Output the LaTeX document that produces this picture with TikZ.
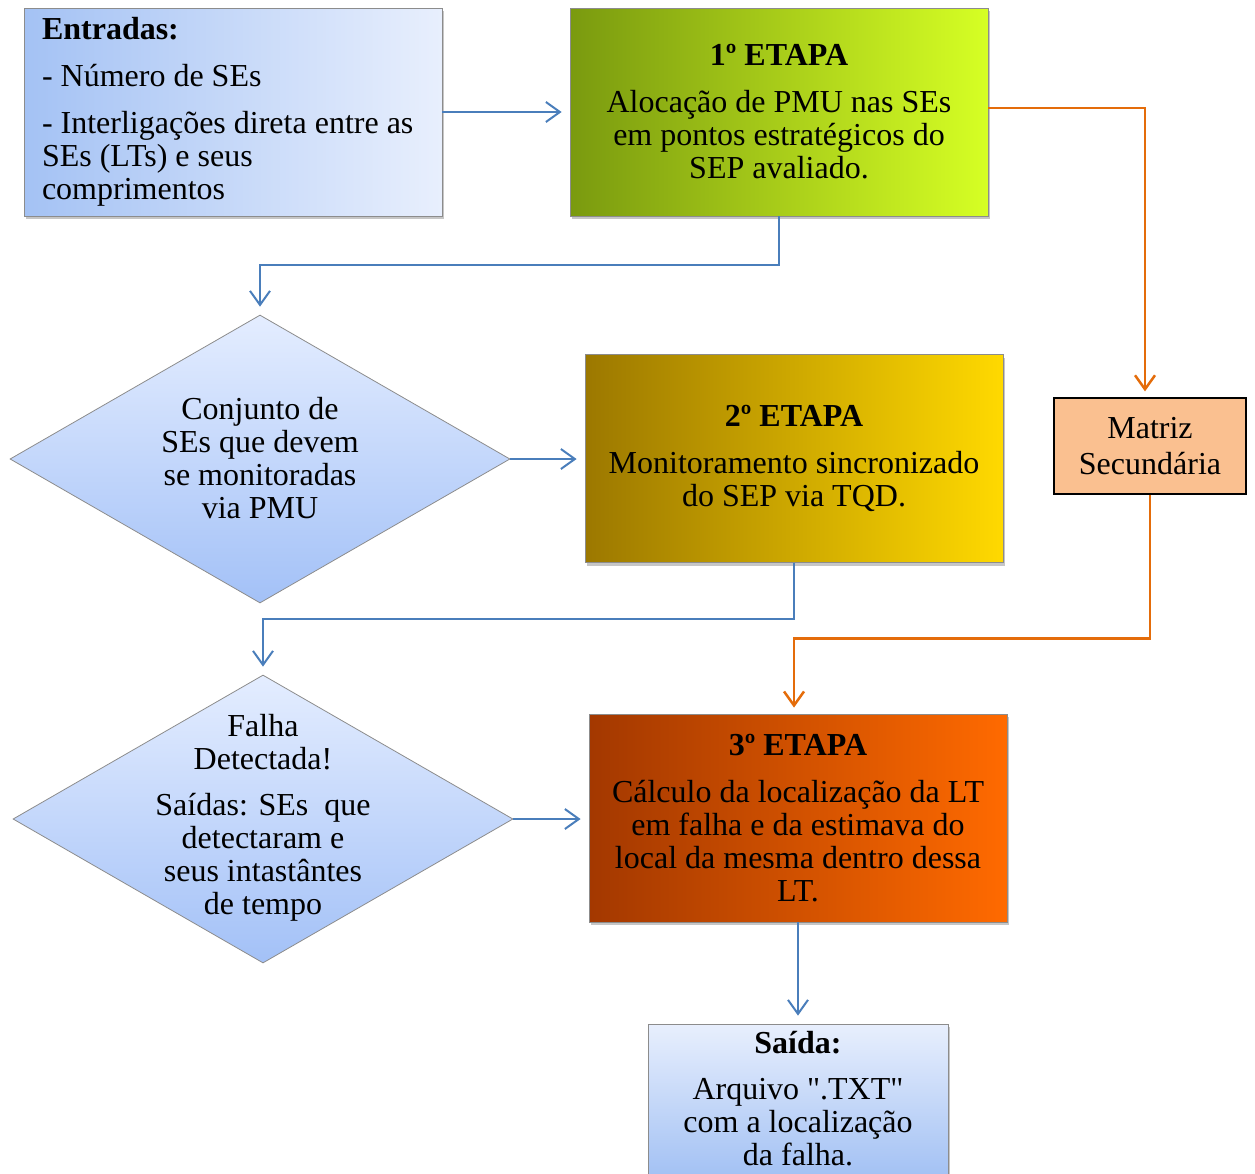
\documentclass[tikz,border=0pt]{standalone}
\usepackage{fontspec}
\setmainfont{Liberation Serif}
\usetikzlibrary{shapes.geometric,arrows.meta,shadows}
\definecolor{entL}{HTML}{A4C2F4}
\definecolor{entR}{HTML}{E8EFFD}
\definecolor{g1L}{HTML}{7A9A0F}
\definecolor{g1R}{HTML}{D6FF24}
\definecolor{g2L}{HTML}{9C7800}
\definecolor{g2R}{HTML}{FFD900}
\definecolor{g3L}{HTML}{A33800}
\definecolor{g3R}{HTML}{FF6A00}
\definecolor{diaTop}{HTML}{E4EDFF}
\definecolor{diaBot}{HTML}{A3C1F7}
\definecolor{matFill}{HTML}{FAC090}
\definecolor{arrBlue}{HTML}{4A7EBB}
\definecolor{arrOrange}{HTML}{E46C0A}
\begin{document}
\begin{tikzpicture}[x=1pt,y=-1pt,
  every node/.style={font=\fontsize{32}{33}\selectfont, text=black},
  box/.style={rectangle, draw=black!45, line width=0.8pt, minimum width=418pt,
    minimum height=208pt, inner sep=0pt, align=center,
    drop shadow={shadow xshift=2pt, shadow yshift=-3pt, opacity=0.45}},
  dia/.style={diamond, draw=black!45, line width=0.8pt, minimum width=500pt,
    minimum height=288pt, inner sep=0pt, top color=diaTop, bottom color=diaBot},
  dtext/.style={align=center, inner sep=0pt},
  barrow/.style={draw=arrBlue, line width=2pt, -{Straight Barb[length=14pt,width=20pt]}, shorten >=8pt},
  oarrow/.style={draw=arrOrange, line width=2.5pt, -{Straight Barb[length=14pt,width=20pt]}, shorten >=6pt}
]
\useasboundingbox (0,0) rectangle (1255,1173);

\node[box, left color=entL, right color=entR, text width=382pt, align=flush left] (ent) at (233,112)
  {\textbf{Entradas:}\\[14pt]- Número de SEs\\[14pt]- Interligações direta entre as\\SEs (LTs) e seus\\comprimentos};

\node[box, left color=g1L, right color=g1R] (n1) at (779,112)
  {\textbf{1º ETAPA}\\[14pt]Alocação de PMU nas SEs\\em pontos estratégicos do\\SEP avaliado.};

\node[box, left color=g2L, right color=g2R] (n2) at (794,458.5)
  {\textbf{2º ETAPA}\\[14pt]Monitoramento sincronizado\\do SEP via TQD.};

\node[box, left color=g3L, right color=g3R] (n3) at (798,818)
  {\textbf{3º ETAPA}\\[14pt]Cálculo da localização da LT\\em falha e da estimava do\\local da mesma dentro dessa\\LT.};

\node[box, top color=entR, bottom color=entL, minimum width=300pt, minimum height=150pt] (sai) at (798,1099)
  {\textbf{Saída:}\\[13pt]Arquivo \textquotedbl.TXT\textquotedbl\\com a localização\\da falha.};

\node[rectangle, draw=black, line width=1.2pt, fill=matFill, minimum width=192pt, minimum height=96pt, align=center, inner sep=0pt] (mat) at (1150,446)
  {Matriz\\[3pt]Secundária};

\node[dia] (d1) at (260,459) {};
\node[dtext] (t1) at (260,458) {Conjunto de\\SEs que devem\\se monitoradas\\via PMU};

\node[dia] (d2) at (263,819) {};
\node[dtext] (t2) at (263,818) {Falha\\Detectada!\\[13pt]Saídas: SEs\ \ que\\detectaram e\\seus intastântes\\de tempo};

\draw[barrow] (ent.east) -- (n1.west);
\draw[barrow] (n1.south) -- ++(0,49) -| (d1.north);
\draw[barrow] (d1.east) -- (n2.west |- d1.east);
\draw[barrow] (n2.south) -- ++(0,56) -| (d2.north);
\draw[barrow] (d2.east) -- (n3.west |- d2.east);
\draw[barrow] (n3.south) -- (sai.north);
\draw[oarrow] ([yshift=4pt]n1.east) -| ([xshift=-5pt]mat.north);
\draw[oarrow] (mat.south) -- ++(0,144) -| ([xshift=-4pt]n3.north);
\end{tikzpicture}
\end{document}
